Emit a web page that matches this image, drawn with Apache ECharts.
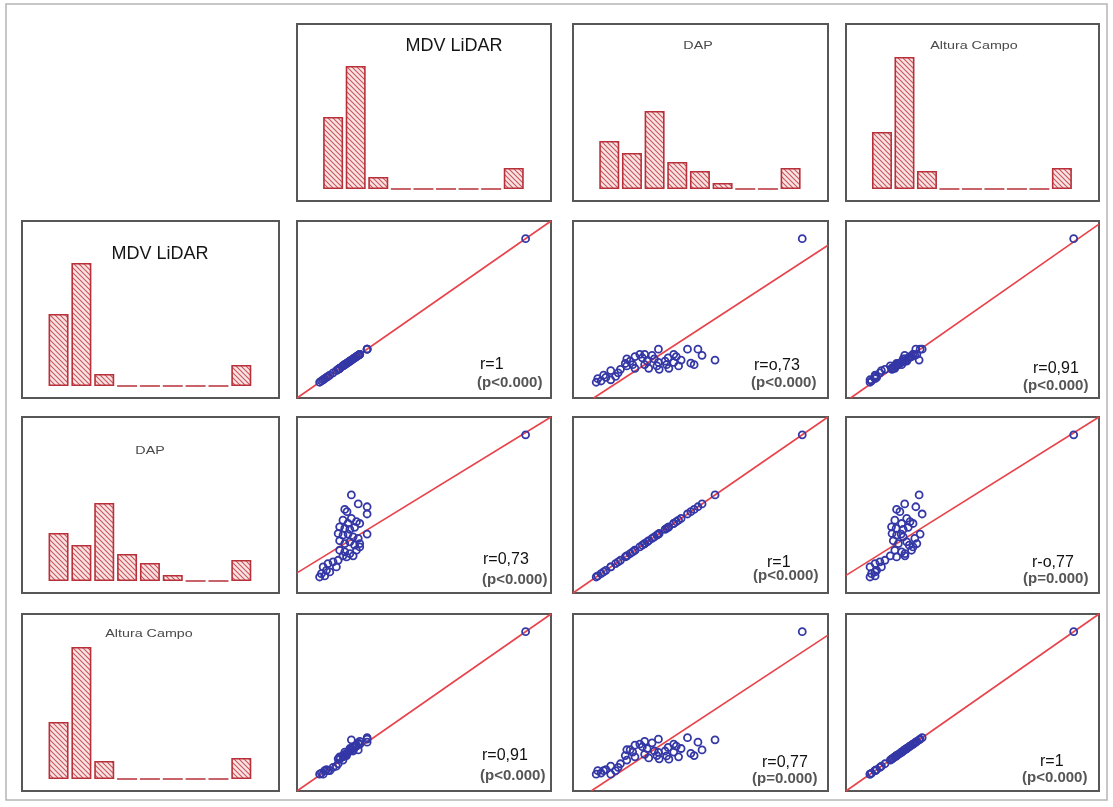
<!DOCTYPE html>
<html>
<head>
<meta charset="utf-8">
<script src="https://cdn.jsdelivr.net/npm/echarts@6/dist/echarts.min.js"></script>
<style>
  html, body { margin: 0; padding: 0; background: #ffffff; }
  #chart { width: 1113px; height: 807px; }
</style>
</head>
<body>
<div id="chart"></div>
<script>
// Variable names, in matrix order
const varNames = ['MDV LiDAR', 'DAP', 'Altura Campo'];

// Per-tree values, each scaled 0-100 over its axis range
const mdvLidar = [21.4, 24.1, 27.6, 27.6, 18.8, 19.7, 21.4, 18.1, 20.1, 23.4, 24.7, 16.8, 18.8, 20.8, 22.7,
  16.2, 18.1, 20.1, 22.1, 24.1, 27.6, 16.8, 18.8, 20.8, 22.7, 24.7, 16.8, 18.8, 20.8, 23.4,
  24.7, 19.5, 22.1, 16.2, 14.2, 12.2, 15.5, 10.3, 11.6, 9.6, 8.9, 10.9, 12.9, 18.1, 90.0];
const dap = [55.7, 50.6, 49.0, 44.9, 47.5, 46.2, 42.4, 41.4, 39.5, 40.5, 39.5, 37.6, 36.7, 36.1, 37.3,
  33.8, 32.9, 33.5, 31.9, 31.0, 33.5, 29.7, 28.1, 29.1, 27.2, 28.1, 24.3, 23.4, 22.4, 24.3,
  26.2, 20.5, 21.1, 18.6, 17.7, 16.7, 14.8, 14.8, 12.9, 11.0, 9.1, 9.7, 12.0, 21.1, 89.9];
const alturaCampo = [28.9, 23.2, 27.6, 30.1, 20.0, 21.3, 24.0, 19.3, 22.0, 25.3, 26.5, 18.0, 19.8, 22.6, 24.6,
  18.2, 20.0, 21.8, 22.6, 27.2, 29.3, 18.7, 20.7, 24.0, 25.0, 28.0, 19.3, 22.0, 23.3, 25.9,
  26.5, 20.0, 23.3, 15.4, 13.4, 11.5, 14.0, 9.5, 12.1, 10.1, 9.5, 11.5, 11.5, 17.5, 90.0];

// Histogram frequencies, 9 classes per variable
const histMdv = [24, 41, 4, 0, 0, 0, 0, 0, 7];
const histDap = [16, 12, 26, 9, 6, 2, 0, 0, 7];
const histAltura = [19, 44, 6, 0, 0, 0, 0, 0, 7];

// Correlation labels, [row][col]
const corrR = [
  ['r=1', 'r=o,73', 'r=0,91'],
  ['r=0,73', 'r=1', 'r-o,77'],
  ['r=0,91', 'r=0,77', 'r=1']
];
const corrP = [
  ['(p<0.000)', '(p<0.000)', '(p<0.000)'],
  ['(p<0.000)', '(p<0.000)', '(p=0.000)'],
  ['(p<0.000)', '(p=0.000)', '(p<0.000)']
];

// Fitted lines per panel [row][col]: two end points [x, y]
const fitLines = [
  [[[0, 0], [100, 100]], [[8.1, 0], [100, 86.3]], [[1.8, 0], [100, 98.2]]],
  [[[0, 11.4], [100, 100]], [[0, 0], [100, 100]], [[0, 10], [100, 100]]],
  [[[0, 0], [100, 100]], [[7.1, 0], [100, 88.1]], [[0, 0], [100, 100]]]
];

const vars = [mdvLidar, dap, alturaCampo];
const hists = [histMdv, histDap, histAltura];

// ---- layout (pixels) ----
const colX = [22, 297, 573, 846];
const colW = [257, 254, 255, 253];
const rowY = [24, 221, 417, 614];
const rowH = [177, 177, 176, 177];
const FONT = '"Liberation Sans", Arial, Helvetica, sans-serif';

// hatch pattern for histogram bars
const pat = document.createElement('canvas');
pat.width = 5; pat.height = 5;
const pctx = pat.getContext('2d');
pctx.fillStyle = '#f9e3e3';
pctx.fillRect(0, 0, 5, 5);
pctx.strokeStyle = '#c8565d';
pctx.lineWidth = 1.1;
pctx.beginPath();
pctx.moveTo(-1, -1); pctx.lineTo(6, 6);
pctx.moveTo(-1, 4); pctx.lineTo(1, 6);
pctx.moveTo(4, -1); pctx.lineTo(6, 1);
pctx.stroke();

const grids = [], xAxes = [], yAxes = [], series = [], graphics = [];

function addGrid(r, c, xr, yr) {
  grids.push({
    left: colX[c], top: rowY[r], width: colW[c], height: rowH[r],
    show: true, borderColor: '#575757', borderWidth: 2, backgroundColor: '#ffffff'
  });
  const idx = grids.length - 1;
  xAxes.push({ type: 'value', gridIndex: idx, min: xr[0], max: xr[1], show: false, splitLine: { show: false } });
  yAxes.push({ type: 'value', gridIndex: idx, min: yr[0], max: yr[1], show: false, splitLine: { show: false } });
  return idx;
}

function addHist(r, c, v) {
  const g = addGrid(r, c, [-1.6, 9.65], [-4, -4 + rowH[r] / 3]);
  series.push({
    type: 'bar', xAxisIndex: g, yAxisIndex: g, silent: true,
    data: hists[v].map((f, i) => [i, f]),
    barWidth: 20,
    itemStyle: { color: { image: pat, repeat: 'repeat' }, borderColor: '#b8303a', borderWidth: 1.6 }
  });
}

// histograms across the top row and down the first column
for (let v = 0; v < 3; v++) {
  addHist(0, v + 1, v);
  addHist(v + 1, 0, v);
}

// scatter panels: x = column variable, y = row variable
for (let r = 0; r < 3; r++) {
  for (let c = 0; c < 3; c++) {
    const g = addGrid(r + 1, c + 1, [0, 100], [0, 100]);
    series.push({
      type: 'line', xAxisIndex: g, yAxisIndex: g, silent: true, z: 2,
      data: fitLines[r][c], symbol: 'none',
      lineStyle: { color: '#e8434b', width: 1.6 }
    });
    series.push({
      type: 'scatter', xAxisIndex: g, yAxisIndex: g, silent: true, z: 3,
      data: vars[c].map((x, i) => [x, vars[r][i]]),
      symbol: 'circle', symbolSize: 7,
      itemStyle: { color: 'rgba(255,255,255,0)', borderColor: '#3437a6', borderWidth: 1.8, opacity: 1 }
    });
  }
}

// variable titles inside the histogram panels
const titleSpots = [
  { v: 0, x: 454, y: 46, big: true }, { v: 1, x: 698, y: 46 }, { v: 2, x: 974, y: 46 },
  { v: 0, x: 160, y: 254, big: true }, { v: 1, x: 150, y: 451 }, { v: 2, x: 149, y: 634 }
];
titleSpots.forEach(t => {
  graphics.push({
    type: 'text', x: t.x, y: t.y, z: 100,
    scaleX: t.big ? 1 : 1.3,
    style: {
      text: varNames[t.v], fill: t.big ? '#151515' : '#4a4a4a',
      font: (t.big ? '18px ' : '11px ') + FONT,
      textAlign: 'center', textVerticalAlign: 'middle'
    }
  });
});

// correlation labels: left edge / middle of "r" line and "(p)" line
const corrSpots = [
  [[480, 365, 477, 383], [754, 366, 751, 383], [1033, 369, 1023, 386]],
  [[483, 560, 482, 580], [767, 563, 753, 576], [1032, 563, 1023, 579]],
  [[482, 756, 480, 776], [762, 763, 752, 779], [1040, 762, 1022, 778]]
];
for (let r = 0; r < 3; r++) {
  for (let c = 0; c < 3; c++) {
    const s = corrSpots[r][c];
    graphics.push({
      type: 'text', x: s[0], y: s[1], z: 100,
      style: { text: corrR[r][c], fill: '#111', font: '16px ' + FONT, textAlign: 'left', textVerticalAlign: 'middle' }
    });
    graphics.push({
      type: 'text', x: s[2], y: s[3], z: 100,
      style: { text: corrP[r][c], fill: '#555', font: 'bold 15px ' + FONT, textAlign: 'left', textVerticalAlign: 'middle' }
    });
  }
}

// outer frame
graphics.push({
  type: 'rect', z: 0, shape: { x: 6, y: 4, width: 1101, height: 796 },
  style: { fill: 'none', stroke: '#b5b5b5', lineWidth: 1.5 }
});

const chart = echarts.init(document.getElementById('chart'), null, { renderer: 'canvas' });
chart.setOption({
  animation: false,
  backgroundColor: '#ffffff',
  grid: grids,
  xAxis: xAxes,
  yAxis: yAxes,
  series: series,
  graphic: graphics
});
</script>
</body>
</html>
